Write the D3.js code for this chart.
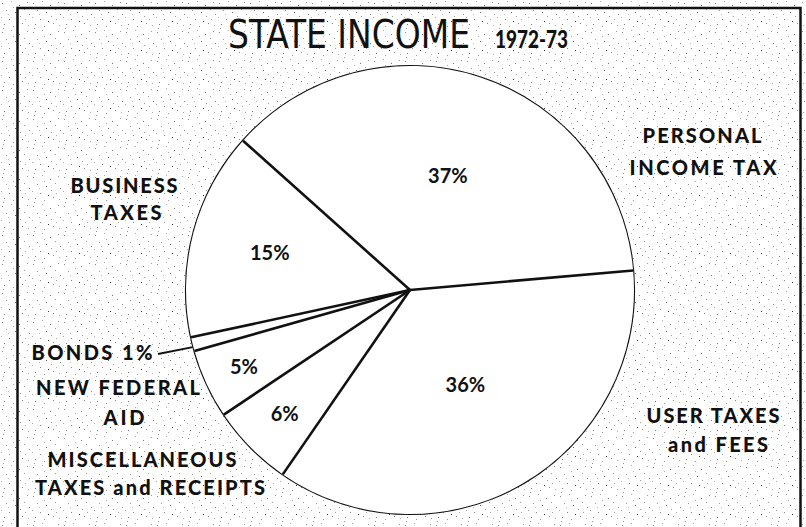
<!DOCTYPE html>
<html>
<head>
<meta charset="utf-8">
<script src="https://cdn.jsdelivr.net/npm/d3@7"></script>
<style>
  body { margin: 0; background: #fff; }
  svg { display: block; }
</style>
</head>
<body>
<div id="chart"></div>
<script>
// data
const categories = ["USER TAXES and FEES", "MISCELLANEOUS TAXES and RECEIPTS", "NEW FEDERAL AID", "BONDS", "BUSINESS TAXES", "PERSONAL INCOME TAX"];
const shares = [36, 6, 5, 1, 15, 37];
const pctLabels = ["36%", "6%", "5%", "", "15%", "37%"];
const titleText = "STATE INCOME";
const yearText = "1972-73";

const width = 806, height = 527;
const cx = 410, cy = 290, radius = 224;

const svg = d3.select("#chart").append("svg")
    .attr("width", width)
    .attr("height", height);

// stipple texture for the background
const defs = svg.append("defs");
const pat = defs.append("pattern")
    .attr("id", "stipple")
    .attr("patternUnits", "userSpaceOnUse")
    .attr("width", 31).attr("height", 29);
const dots = [[2,3,"#888"],[11,1,"#aaa"],[19,5,"#777"],[27,2,"#999"],[6,10,"#999"],[15,12,"#666"],
    [24,9,"#999"],[1,17,"#aaa"],[9,19,"#888"],[20,16,"#999"],[29,14,"#888"],[4,24,"#777"],
    [13,26,"#999"],[22,23,"#888"],[28,25,"#aaa"],[17,21,"#333"],[8,14,"#bbb"],[25,19,"#aaa"],
    [13,7,"#aaa"],[3,28,"#999"]];
dots.forEach(d => pat.append("rect").attr("x", d[0]).attr("y", d[1])
    .attr("width", 1).attr("height", 1).attr("fill", d[2]));

svg.append("rect").attr("width", width).attr("height", height).attr("fill", "#fff");
svg.append("rect").attr("width", width).attr("height", height).attr("fill", "url(#stipple)");

// frame
svg.append("path")
    .attr("d", "M17.5,540 L17.5,8 L800.5,8 L800.5,540")
    .attr("fill", "none")
    .attr("stroke", "#111")
    .attr("stroke-width", 2.5);

// title
svg.append("text")
    .attr("x", 228).attr("y", 48)
    .attr("font-family", "'Liberation Sans Narrow', 'DejaVu Sans Condensed', sans-serif")
    .attr("font-size", 39)
    .attr("textLength", 242)
    .attr("lengthAdjust", "spacingAndGlyphs")
    .attr("fill", "#111")
    .text(titleText);

svg.append("text")
    .attr("x", 495).attr("y", 48)
    .attr("font-family", "Lato, 'DejaVu Sans', sans-serif")
    .attr("font-weight", 900)
    .attr("font-size", 25)
    .attr("textLength", 73)
    .attr("lengthAdjust", "spacingAndGlyphs")
    .attr("fill", "#111")
    .text(yearText);

// pie
const g = svg.append("g").attr("transform", `translate(${cx},${cy})`);
const start = 85 * Math.PI / 180;
const pie = d3.pie().sort(null).startAngle(start).endAngle(start + 2 * Math.PI);
const arcs = pie(shares);
const arc = d3.arc().innerRadius(0).outerRadius(radius);

g.append("circle").attr("r", radius).attr("fill", "#fff")
    .attr("stroke", "#111").attr("stroke-width", 2.2);

g.selectAll(".slice")
    .data(arcs)
    .enter().append("path")
    .attr("class", "slice")
    .attr("d", arc)
    .attr("fill", "#fff")
    .attr("stroke", "none");

// radial dividing lines
g.selectAll(".divider")
    .data(arcs)
    .enter().append("line")
    .attr("class", "divider")
    .attr("x1", 0).attr("y1", 0)
    .attr("x2", d => radius * Math.sin(d.startAngle))
    .attr("y2", d => -radius * Math.cos(d.startAngle))
    .attr("stroke", "#111")
    .attr("stroke-width", 2.6);

// percent labels inside slices
const labelR = [110, 176, 183, 0, 145, 120];
g.selectAll(".pct")
    .data(arcs)
    .enter().append("text")
    .attr("class", "pct")
    .attr("x", (d, i) => labelR[i] * Math.sin((d.startAngle + d.endAngle) / 2))
    .attr("y", (d, i) => -labelR[i] * Math.cos((d.startAngle + d.endAngle) / 2) + 7)
    .attr("text-anchor", "middle")
    .attr("font-family", "Lato, 'DejaVu Sans', sans-serif")
    .attr("font-weight", 700)
    .attr("font-size", 20)
    .attr("fill", "#111")
    .text((d, i) => pctLabels[i]);

// outside category labels
const labelLines = [
    { t: "PERSONAL", x: 702, y: 143, w: 119 },
    { t: "INCOME TAX", x: 703, y: 175, w: 147 },
    { t: "BUSINESS", x: 124, y: 193, w: 107 },
    { t: "TAXES", x: 126, y: 220, w: 71 },
    { t: "BONDS 1%", x: 92, y: 360, w: 121 },
    { t: "NEW FEDERAL", x: 118, y: 395, w: 164 },
    { t: "AID", x: 124, y: 425, w: 41 },
    { t: "MISCELLANEOUS", x: 142, y: 467, w: 189 },
    { t: "TAXES and RECEIPTS", x: 150, y: 495, w: 230 },
    { t: "USER TAXES", x: 713, y: 423, w: 133 },
    { t: "and FEES", x: 718, y: 452, w: 100 }
];
svg.selectAll(".cat")
    .data(labelLines)
    .enter().append("text")
    .attr("class", "cat")
    .attr("x", d => d.x).attr("y", d => d.y)
    .attr("text-anchor", "middle")
    .attr("font-family", "Lato, 'DejaVu Sans', sans-serif")
    .attr("font-weight", 900)
    .attr("font-size", 20)
    .attr("textLength", d => d.w)
    .attr("lengthAdjust", "spacing")
    .attr("fill", "#111")
    .text(d => d.t);

// leader for bonds
const bonds = arcs[3];
const mid = (bonds.startAngle + bonds.endAngle) / 2;
svg.append("line")
    .attr("x1", 158).attr("y1", 354)
    .attr("x2", cx + radius * Math.sin(mid))
    .attr("y2", cy - radius * Math.cos(mid) + 3)
    .attr("stroke", "#111")
    .attr("stroke-width", 1.8);
</script>
</body>
</html>
